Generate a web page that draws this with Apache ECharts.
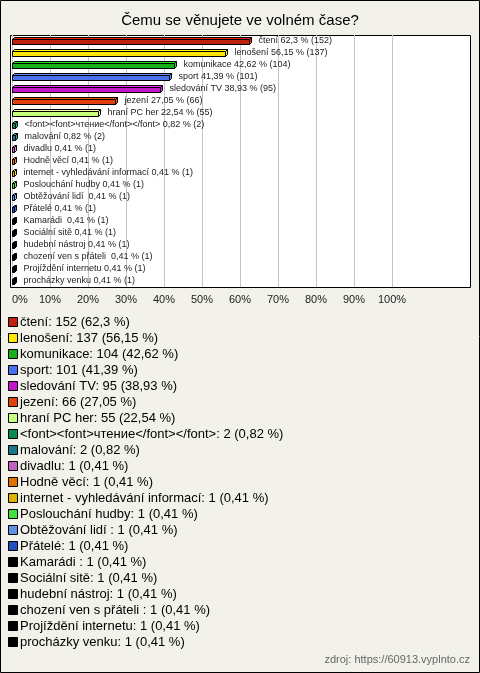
<!DOCTYPE html>
<html><head><meta charset="utf-8">
<script src="https://cdn.jsdelivr.net/npm/echarts@6/dist/echarts.min.js"></script>
<style>html,body{margin:0;padding:0;background:#f3f2ea}#c{width:480px;height:673px}</style>
</head><body><div id="c"></div>
<script>
const categories = ["čtení","lenošení","komunikace","sport","sledování TV","jezení","hraní PC her","<font><font>чтение</font></font>","malování","divadlu","Hodně věcí","internet - vyhledávání informací","Poslouchání hudby","Obtěžování lidí ","Přátelé","Kamarádi ","Sociální sitě","hudební nástroj","chození ven s přáteli ","Projíždění internetu","procházky venku"];
const counts = [152,137,104,101,95,66,55,2,2,1,1,1,1,1,1,1,1,1,1,1,1];
const percents = [62.3,56.15,42.62,41.39,38.93,27.05,22.54,0.82,0.82,0.41,0.41,0.41,0.41,0.41,0.41,0.41,0.41,0.41,0.41,0.41,0.41];
const colors = ["#c0200e","#ffe600","#18b018","#4a70f0","#c018c8","#e0400c","#c8ff80","#0c8c50","#1a7888","#c060c0","#e07000","#e0b000","#40e040","#6090e0","#2050c0","#000000","#000000","#000000","#000000","#000000","#000000"];
const xTicks = [0,10,20,30,40,50,60,70,80,90,100];
const title = "Čemu se věnujete ve volném čase?";
const source = "zdroj: https://60913.vyplnto.cz";

const fmt = v => String(v).replace('.', ',');
const FONT = '"Liberation Sans", Arial, sans-serif';
const chart = echarts.init(document.getElementById('c'), null, {renderer:'canvas'});

const legendEls = [];
categories.forEach((c,i)=>{
  const cy = 322 + i*16;
  legendEls.push({type:'rect', shape:{x:8.5,y:cy-4.5,width:9,height:9}, style:{fill:colors[i],stroke:'#000',lineWidth:1}});
  legendEls.push({type:'text', x:20, y:cy, style:{text:c + ': ' + counts[i] + ' (' + fmt(percents[i]) + ' %)', font:'13px ' + FONT, fill:'#000', verticalAlign:'middle'}});
});

function renderBar(params, api){
  const idx = api.value(0);
  const val = api.value(1);
  const p0 = api.coord([0, idx]);
  const p1 = api.coord([val, idx]);
  const d = 2;
  const x0 = Math.round(p0[0]) + 0.5, x1 = Math.round(p1[0]) + 0.5;
  const yt = Math.round(p0[1]) - 1.5, yb = yt + 5;
  const col = colors[idx];
  const dark = echarts.color.lift(col, -0.3);
  return {type:'group', children:[
    {type:'polygon', shape:{points:[[x0,yt],[x0+d,yt-d],[x1+d,yt-d],[x1,yt]]}, style:{fill:dark, stroke:'#000', lineWidth:1}},
    {type:'polygon', shape:{points:[[x1,yt],[x1+d,yt-d],[x1+d,yb-d],[x1,yb]]}, style:{fill:dark, stroke:'#000', lineWidth:1}},
    {type:'rect', shape:{x:x0, y:yt, width:Math.max(x1-x0,1), height:yb-yt}, style:{fill:col, stroke:'#000', lineWidth:1}},
    {type:'text', x:x1 + d + 7, y:Math.round(p0[1]), style:{text:categories[idx]+' '+fmt(percents[idx])+' % ('+counts[idx]+')', font:'9px ' + FONT, fill:'#222', verticalAlign:'middle'}}
  ]};
}

chart.setOption({
  backgroundColor:'#f3f2ea',
  animation:false,
  title:{text:title, left:'center', top:8, textStyle:{fontFamily:FONT, fontSize:15, fontWeight:'normal', color:'#000'}},
  grid:{left:12, top:35, width:380, height:252, containLabel:false},
  xAxis:{type:'value', min:0, max:100, interval:10,
    axisLine:{show:false}, axisTick:{show:false},
    splitLine:{show:true, lineStyle:{color:'#c4c4c4', width:1}},
    axisLabel:{formatter:v=>v+'%', fontFamily:FONT, fontSize:11, color:'#222', margin:7, alignMinLabel:'left'}
  },
  yAxis:{type:'category', data:categories, inverse:true, axisLine:{show:false}, axisTick:{show:false}, axisLabel:{show:false}},
  series:[{
    type:'custom', renderItem:renderBar, clip:false,
    encode:{x:1, y:0},
    data:percents.map((p,i)=>[i, p])
  }],
  graphic:[
    {type:'rect', z:-10, shape:{x:0.5,y:0.5,width:479,height:672}, style:{fill:'#f3f2ea',stroke:'#000',lineWidth:1}},
    {type:'rect', z:-5, shape:{x:10.5,y:35.5,width:460,height:252}, style:{fill:'#fff',stroke:'#000',lineWidth:1}},
    {type:'text', right:10, top:654, style:{text:source, font:'11px ' + FONT, fill:'#666'}},
    ...legendEls
  ]
});
</script></body></html>
